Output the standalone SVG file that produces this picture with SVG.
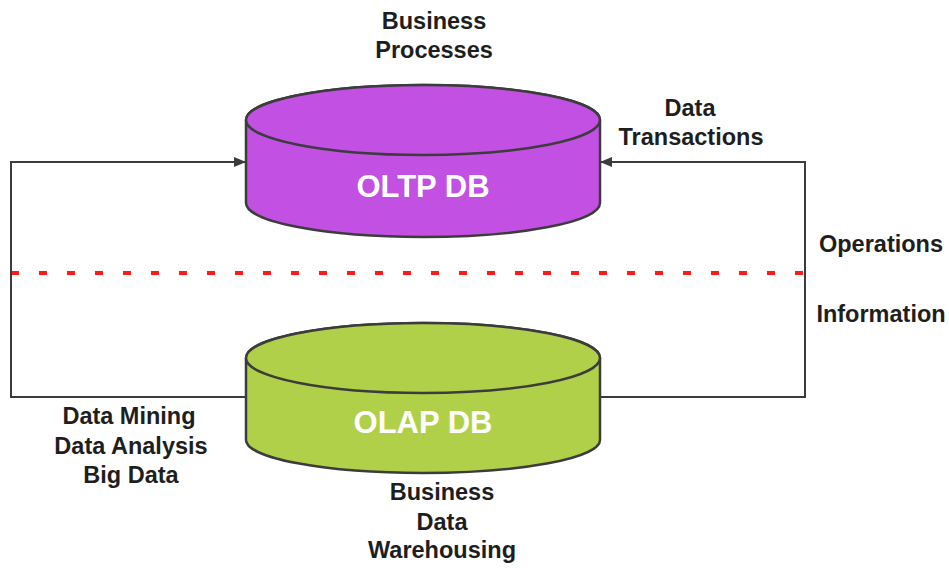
<svg xmlns="http://www.w3.org/2000/svg" width="949" height="568" viewBox="0 0 949 568">
<style>
.lbl{font-family:"Liberation Sans",Arial,sans-serif;font-weight:bold;font-size:23.5px;fill:#1e1e1e;text-anchor:middle}
.db{font-family:"Liberation Sans",Arial,sans-serif;font-weight:bold;font-size:31px;fill:#ffffff;text-anchor:middle}
.cyl{stroke:#3c3c3c;stroke-width:2.5}
.conn{fill:none;stroke:#3c3c3c;stroke-width:2}
</style>
<defs>
<marker id="arr" viewBox="0 0 12 10" refX="12" refY="5" markerWidth="12" markerHeight="10" orient="auto" markerUnits="userSpaceOnUse">
<path d="M0,0 L12,5 L0,10 z" fill="#3c3c3c"/>
</marker>
</defs>
<rect width="949" height="568" fill="#ffffff"/>
<line x1="11" y1="273" x2="806" y2="273" stroke="#ff1a1a" stroke-width="4" stroke-dasharray="8 20"/>
<g id="connectors">
<path class="conn" d="M246,397 H11 V162 H246" marker-end="url(#arr)"/>
<path class="conn" d="M600,397 H805 V162 H600" marker-end="url(#arr)"/>
</g>
<g id="oltp">
<path class="cyl" fill="#c150e3" d="M246,120 V203 A177,34 0 0 0 600,203 V120 A177,35 0 0 0 246,120 z"/>
<ellipse class="cyl" fill="#c150e3" cx="423" cy="120" rx="177" ry="35"/>
<text class="db" x="423" y="197">OLTP DB</text>
</g>
<g id="olap">
<path class="cyl" fill="#b1d049" d="M246,358 V440 A177,33 0 0 0 600,440 V358 A177,35 0 0 0 246,358 z"/>
<ellipse class="cyl" fill="#b1d049" cx="423" cy="358" rx="177" ry="35"/>
<text class="db" x="423" y="433">OLAP DB</text>
</g>
<g id="labels">
<text class="lbl" x="434" y="29">Business</text>
<text class="lbl" x="434" y="58">Processes</text>
<text class="lbl" x="690" y="116">Data</text>
<text class="lbl" x="691" y="145">Transactions</text>
<text class="lbl" x="881" y="252">Operations</text>
<text class="lbl" x="881" y="322">Information</text>
<text class="lbl" x="129" y="424">Data Mining</text>
<text class="lbl" x="131" y="454">Data Analysis</text>
<text class="lbl" x="131" y="483">Big Data</text>
<text class="lbl" x="442" y="500">Business</text>
<text class="lbl" x="442" y="530">Data</text>
<text class="lbl" x="442" y="558">Warehousing</text>
</g>
</svg>
